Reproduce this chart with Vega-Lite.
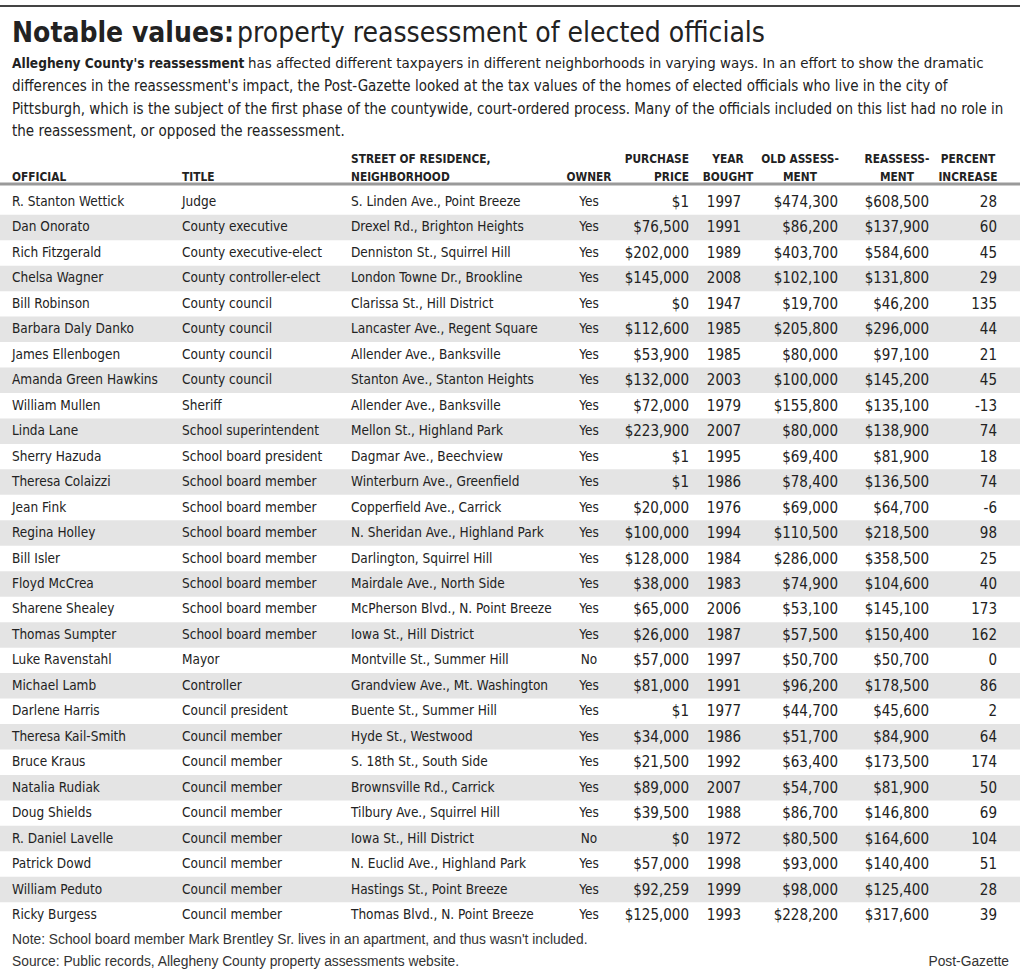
{
  "$schema": "https://vega.github.io/schema/vega-lite/v6.json",
  "width": 1020,
  "height": 973,
  "autosize": "none",
  "padding": 0,
  "background": "white",
  "config": {"view": {"stroke": null}, "axis": {"disable": true}},
  "datasets": {
    "rows": [
      {"n": 1, "official": "R. Stanton Wettick", "title": "Judge", "street": "S. Linden Ave., Point Breeze", "owner": "Yes", "price": 1, "year": "1997", "old": 474300, "reassess": 608500, "pct": "28"},
      {"n": 2, "official": "Dan Onorato", "title": "County executive", "street": "Drexel Rd., Brighton Heights", "owner": "Yes", "price": 76500, "year": "1991", "old": 86200, "reassess": 137900, "pct": "60"},
      {"n": 3, "official": "Rich Fitzgerald", "title": "County executive-elect", "street": "Denniston St., Squirrel Hill", "owner": "Yes", "price": 202000, "year": "1989", "old": 403700, "reassess": 584600, "pct": "45"},
      {"n": 4, "official": "Chelsa Wagner", "title": "County controller-elect", "street": "London Towne Dr., Brookline", "owner": "Yes", "price": 145000, "year": "2008", "old": 102100, "reassess": 131800, "pct": "29"},
      {"n": 5, "official": "Bill Robinson", "title": "County council", "street": "Clarissa St., Hill District", "owner": "Yes", "price": 0, "year": "1947", "old": 19700, "reassess": 46200, "pct": "135"},
      {"n": 6, "official": "Barbara Daly Danko", "title": "County council", "street": "Lancaster Ave., Regent Square", "owner": "Yes", "price": 112600, "year": "1985", "old": 205800, "reassess": 296000, "pct": "44"},
      {"n": 7, "official": "James Ellenbogen", "title": "County council", "street": "Allender Ave., Banksville", "owner": "Yes", "price": 53900, "year": "1985", "old": 80000, "reassess": 97100, "pct": "21"},
      {"n": 8, "official": "Amanda Green Hawkins", "title": "County council", "street": "Stanton Ave., Stanton Heights", "owner": "Yes", "price": 132000, "year": "2003", "old": 100000, "reassess": 145200, "pct": "45"},
      {"n": 9, "official": "William Mullen", "title": "Sheriff", "street": "Allender Ave., Banksville", "owner": "Yes", "price": 72000, "year": "1979", "old": 155800, "reassess": 135100, "pct": "-13"},
      {"n": 10, "official": "Linda Lane", "title": "School superintendent", "street": "Mellon St., Highland Park", "owner": "Yes", "price": 223900, "year": "2007", "old": 80000, "reassess": 138900, "pct": "74"},
      {"n": 11, "official": "Sherry Hazuda", "title": "School board president", "street": "Dagmar Ave., Beechview", "owner": "Yes", "price": 1, "year": "1995", "old": 69400, "reassess": 81900, "pct": "18"},
      {"n": 12, "official": "Theresa Colaizzi", "title": "School board member", "street": "Winterburn Ave., Greenfield", "owner": "Yes", "price": 1, "year": "1986", "old": 78400, "reassess": 136500, "pct": "74"},
      {"n": 13, "official": "Jean Fink", "title": "School board member", "street": "Copperfield Ave., Carrick", "owner": "Yes", "price": 20000, "year": "1976", "old": 69000, "reassess": 64700, "pct": "-6"},
      {"n": 14, "official": "Regina Holley", "title": "School board member", "street": "N. Sheridan Ave., Highland Park", "owner": "Yes", "price": 100000, "year": "1994", "old": 110500, "reassess": 218500, "pct": "98"},
      {"n": 15, "official": "Bill Isler", "title": "School board member", "street": "Darlington, Squirrel Hill", "owner": "Yes", "price": 128000, "year": "1984", "old": 286000, "reassess": 358500, "pct": "25"},
      {"n": 16, "official": "Floyd McCrea", "title": "School board member", "street": "Mairdale Ave., North Side", "owner": "Yes", "price": 38000, "year": "1983", "old": 74900, "reassess": 104600, "pct": "40"},
      {"n": 17, "official": "Sharene Shealey", "title": "School board member", "street": "McPherson Blvd., N. Point Breeze", "owner": "Yes", "price": 65000, "year": "2006", "old": 53100, "reassess": 145100, "pct": "173"},
      {"n": 18, "official": "Thomas Sumpter", "title": "School board member", "street": "Iowa St., Hill District", "owner": "Yes", "price": 26000, "year": "1987", "old": 57500, "reassess": 150400, "pct": "162"},
      {"n": 19, "official": "Luke Ravenstahl", "title": "Mayor", "street": "Montville St., Summer Hill", "owner": "No", "price": 57000, "year": "1997", "old": 50700, "reassess": 50700, "pct": "0"},
      {"n": 20, "official": "Michael Lamb", "title": "Controller", "street": "Grandview Ave., Mt. Washington", "owner": "Yes", "price": 81000, "year": "1991", "old": 96200, "reassess": 178500, "pct": "86"},
      {"n": 21, "official": "Darlene Harris", "title": "Council president", "street": "Buente St., Summer Hill", "owner": "Yes", "price": 1, "year": "1977", "old": 44700, "reassess": 45600, "pct": "2"},
      {"n": 22, "official": "Theresa Kail-Smith", "title": "Council member", "street": "Hyde St., Westwood", "owner": "Yes", "price": 34000, "year": "1986", "old": 51700, "reassess": 84900, "pct": "64"},
      {"n": 23, "official": "Bruce Kraus", "title": "Council member", "street": "S. 18th St., South Side", "owner": "Yes", "price": 21500, "year": "1992", "old": 63400, "reassess": 173500, "pct": "174"},
      {"n": 24, "official": "Natalia Rudiak", "title": "Council member", "street": "Brownsville Rd., Carrick", "owner": "Yes", "price": 89000, "year": "2007", "old": 54700, "reassess": 81900, "pct": "50"},
      {"n": 25, "official": "Doug Shields", "title": "Council member", "street": "Tilbury Ave., Squirrel Hill", "owner": "Yes", "price": 39500, "year": "1988", "old": 86700, "reassess": 146800, "pct": "69"},
      {"n": 26, "official": "R. Daniel Lavelle", "title": "Council member", "street": "Iowa St., Hill District", "owner": "No", "price": 0, "year": "1972", "old": 80500, "reassess": 164600, "pct": "104"},
      {"n": 27, "official": "Patrick Dowd", "title": "Council member", "street": "N. Euclid Ave., Highland Park", "owner": "Yes", "price": 57000, "year": "1998", "old": 93000, "reassess": 140400, "pct": "51"},
      {"n": 28, "official": "William Peduto", "title": "Council member", "street": "Hastings St., Point Breeze", "owner": "Yes", "price": 92259, "year": "1999", "old": 98000, "reassess": 125400, "pct": "28"},
      {"n": 29, "official": "Ricky Burgess", "title": "Council member", "street": "Thomas Blvd., N. Point Breeze", "owner": "Yes", "price": 125000, "year": "1993", "old": 228200, "reassess": 317600, "pct": "39"}
    ]
  },
  "layer": [
    {
      "data": {"values": [{"k": "top"}]},
      "mark": {"type": "rule", "color": "#444444", "strokeWidth": 2},
      "encoding": {
        "x": {"datum": -1, "type": "quantitative", "axis": null, "scale": {"domain": [-1, 0, 1, 2, 3, 4, 5, 6, 7, 8, 9, 10, 11, 12, 13, 14], "range": [0, 12, 182, 351, 589, 689, 724, 728, 800, 838, 897, 929, 968, 997, 1009, 1020], "zero": false, "nice": false}},
        "x2": {"datum": 14},
        "y": {"datum": -9, "type": "quantitative", "axis": null, "scale": {"domain": [-9, -8, -7, -6, -3, -2, -1, 1, 29, 30, 31], "range": [6, 42, 68, 91, 163, 181, 184, 202, 915, 943.5, 965.5], "zero": false, "nice": false}}
      }
    },
    {
      "data": {"name": "rows"},
      "transform": [{"filter": "datum.n % 2 == 0"}],
      "mark": {"type": "rule", "color": "#e4e4e4", "strokeWidth": 25.5},
      "encoding": {"x": {"datum": -1, "type": "quantitative"}, "x2": {"datum": 14}, "y": {"field": "n", "type": "quantitative"}}
    },
    {
      "data": {"values": [{"k": "hdr"}]},
      "mark": {"type": "rule", "color": "#9a9a9a", "strokeWidth": 3},
      "encoding": {"x": {"datum": -1, "type": "quantitative"}, "x2": {"datum": 14}, "y": {"datum": -1, "type": "quantitative"}}
    },
    {
      "data": {"values": [{"t": "Notable values:"}]},
      "mark": {"type": "text", "align": "left", "baseline": "alphabetic", "font": "DejaVu Sans Condensed, Roboto", "fontWeight": "bold", "fontSize": 28, "color": "#222222"},
      "encoding": {"x": {"datum": 0, "type": "quantitative"}, "y": {"datum": -8, "type": "quantitative"}, "text": {"field": "t"}}
    },
    {
      "data": {"values": [{"t": "property reassessment of elected officials"}]},
      "mark": {"type": "text", "align": "left", "baseline": "alphabetic", "font": "DejaVu Sans Condensed, Roboto", "fontSize": 28, "dx": 225, "color": "#222222"},
      "encoding": {"x": {"datum": 0, "type": "quantitative"}, "y": {"datum": -8, "type": "quantitative"}, "text": {"field": "t"}}
    },
    {
      "data": {"values": [{"t": "Allegheny County's reassessment"}]},
      "mark": {"type": "text", "align": "left", "baseline": "alphabetic", "font": "DejaVu Sans Condensed, Roboto", "fontWeight": "bold", "fontSize": 13.6, "color": "#222222"},
      "encoding": {"x": {"datum": 0, "type": "quantitative"}, "y": {"datum": -7, "type": "quantitative"}, "text": {"field": "t"}}
    },
    {
      "data": {"values": [{"t": "has affected different taxpayers in different neighborhoods in varying ways. In an effort to show the dramatic"}]},
      "mark": {"type": "text", "align": "left", "baseline": "alphabetic", "font": "DejaVu Sans Condensed, Roboto", "fontSize": 14.9, "dx": 236, "color": "#222222"},
      "encoding": {"x": {"datum": 0, "type": "quantitative"}, "y": {"datum": -7, "type": "quantitative"}, "text": {"field": "t"}}
    },
    {
      "data": {"values": [{"t": "differences in the reassessment's impact, the Post-Gazette looked at the tax values of the homes of elected officials who live in the city of\nPittsburgh, which is the subject of the first phase of the countywide, court-ordered process. Many of the officials included on this list had no role in\nthe reassessment, or opposed the reassessment."}]},
      "mark": {"type": "text", "align": "left", "baseline": "alphabetic", "font": "DejaVu Sans Condensed, Roboto", "fontSize": 15, "lineBreak": "\n", "lineHeight": 22.6, "color": "#222222"},
      "encoding": {"x": {"datum": 0, "type": "quantitative"}, "y": {"datum": -6, "type": "quantitative"}, "text": {"field": "t"}}
    },
    {
      "data": {"values": [{"h": "OFFICIAL"}]},
      "mark": {"type": "text", "align": "left", "baseline": "alphabetic", "font": "DejaVu Sans Condensed, Roboto", "fontWeight": "bold", "fontSize": 11.8, "color": "#222222"},
      "encoding": {"x": {"datum": 0, "type": "quantitative"}, "y": {"datum": -2, "type": "quantitative"}, "text": {"field": "h"}}
    },
    {
      "data": {"values": [{"h": "TITLE"}]},
      "mark": {"type": "text", "align": "left", "baseline": "alphabetic", "font": "DejaVu Sans Condensed, Roboto", "fontWeight": "bold", "fontSize": 11.8, "color": "#222222"},
      "encoding": {"x": {"datum": 1, "type": "quantitative"}, "y": {"datum": -2, "type": "quantitative"}, "text": {"field": "h"}}
    },
    {
      "data": {"values": [{"h": "STREET OF RESIDENCE,\nNEIGHBORHOOD"}]},
      "mark": {"type": "text", "align": "left", "baseline": "alphabetic", "font": "DejaVu Sans Condensed, Roboto", "fontWeight": "bold", "fontSize": 11.8, "lineBreak": "\n", "lineHeight": 18, "color": "#222222"},
      "encoding": {"x": {"datum": 2, "type": "quantitative"}, "y": {"datum": -3, "type": "quantitative"}, "text": {"field": "h"}}
    },
    {
      "data": {"values": [{"h": "OWNER"}]},
      "mark": {"type": "text", "align": "center", "baseline": "alphabetic", "font": "DejaVu Sans Condensed, Roboto", "fontWeight": "bold", "fontSize": 11.8, "color": "#222222"},
      "encoding": {"x": {"datum": 3, "type": "quantitative"}, "y": {"datum": -2, "type": "quantitative"}, "text": {"field": "h"}}
    },
    {
      "data": {"values": [{"h": "PURCHASE\nPRICE"}]},
      "mark": {"type": "text", "align": "right", "baseline": "alphabetic", "font": "DejaVu Sans Condensed, Roboto", "fontWeight": "bold", "fontSize": 11.8, "lineBreak": "\n", "lineHeight": 18, "color": "#222222"},
      "encoding": {"x": {"datum": 4, "type": "quantitative"}, "y": {"datum": -3, "type": "quantitative"}, "text": {"field": "h"}}
    },
    {
      "data": {"values": [{"h": "YEAR\nBOUGHT"}]},
      "mark": {"type": "text", "align": "center", "baseline": "alphabetic", "font": "DejaVu Sans Condensed, Roboto", "fontWeight": "bold", "fontSize": 11.8, "lineBreak": "\n", "lineHeight": 18, "color": "#222222"},
      "encoding": {"x": {"datum": 6, "type": "quantitative"}, "y": {"datum": -3, "type": "quantitative"}, "text": {"field": "h"}}
    },
    {
      "data": {"values": [{"h": "OLD ASSESS-\nMENT"}]},
      "mark": {"type": "text", "align": "center", "baseline": "alphabetic", "font": "DejaVu Sans Condensed, Roboto", "fontWeight": "bold", "fontSize": 11.8, "lineBreak": "\n", "lineHeight": 18, "color": "#222222"},
      "encoding": {"x": {"datum": 7, "type": "quantitative"}, "y": {"datum": -3, "type": "quantitative"}, "text": {"field": "h"}}
    },
    {
      "data": {"values": [{"h": "REASSESS-\nMENT"}]},
      "mark": {"type": "text", "align": "center", "baseline": "alphabetic", "font": "DejaVu Sans Condensed, Roboto", "fontWeight": "bold", "fontSize": 11.8, "lineBreak": "\n", "lineHeight": 18, "color": "#222222"},
      "encoding": {"x": {"datum": 9, "type": "quantitative"}, "y": {"datum": -3, "type": "quantitative"}, "text": {"field": "h"}}
    },
    {
      "data": {"values": [{"h": "PERCENT\nINCREASE"}]},
      "mark": {"type": "text", "align": "center", "baseline": "alphabetic", "font": "DejaVu Sans Condensed, Roboto", "fontWeight": "bold", "fontSize": 11.8, "lineBreak": "\n", "lineHeight": 18, "color": "#222222"},
      "encoding": {"x": {"datum": 11, "type": "quantitative"}, "y": {"datum": -3, "type": "quantitative"}, "text": {"field": "h"}}
    },
    {
      "data": {"name": "rows"},
      "mark": {"type": "text", "align": "left", "baseline": "middle", "font": "DejaVu Sans Condensed, Roboto", "fontSize": 13.5, "color": "#222222"},
      "encoding": {"x": {"datum": 0, "type": "quantitative"}, "y": {"field": "n", "type": "quantitative"}, "text": {"field": "official", "type": "nominal"}}
    },
    {
      "data": {"name": "rows"},
      "mark": {"type": "text", "align": "left", "baseline": "middle", "font": "DejaVu Sans Condensed, Roboto", "fontSize": 13.5, "color": "#222222"},
      "encoding": {"x": {"datum": 1, "type": "quantitative"}, "y": {"field": "n", "type": "quantitative"}, "text": {"field": "title", "type": "nominal"}}
    },
    {
      "data": {"name": "rows"},
      "mark": {"type": "text", "align": "left", "baseline": "middle", "font": "DejaVu Sans Condensed, Roboto", "fontSize": 13.5, "color": "#222222"},
      "encoding": {"x": {"datum": 2, "type": "quantitative"}, "y": {"field": "n", "type": "quantitative"}, "text": {"field": "street", "type": "nominal"}}
    },
    {
      "data": {"name": "rows"},
      "mark": {"type": "text", "align": "center", "baseline": "middle", "font": "DejaVu Sans Condensed, Roboto", "fontSize": 13.5, "color": "#222222"},
      "encoding": {"x": {"datum": 3, "type": "quantitative"}, "y": {"field": "n", "type": "quantitative"}, "text": {"field": "owner", "type": "nominal"}}
    },
    {
      "data": {"name": "rows"},
      "mark": {"type": "text", "align": "right", "baseline": "middle", "font": "DejaVu Sans Condensed, Roboto", "fontSize": 15, "color": "#222222"},
      "encoding": {"x": {"datum": 4, "type": "quantitative"}, "y": {"field": "n", "type": "quantitative"}, "text": {"field": "price", "type": "quantitative", "format": "$,"}}
    },
    {
      "data": {"name": "rows"},
      "mark": {"type": "text", "align": "center", "baseline": "middle", "font": "DejaVu Sans Condensed, Roboto", "fontSize": 15, "color": "#222222"},
      "encoding": {"x": {"datum": 5, "type": "quantitative"}, "y": {"field": "n", "type": "quantitative"}, "text": {"field": "year", "type": "nominal"}}
    },
    {
      "data": {"name": "rows"},
      "mark": {"type": "text", "align": "right", "baseline": "middle", "font": "DejaVu Sans Condensed, Roboto", "fontSize": 15, "color": "#222222"},
      "encoding": {"x": {"datum": 8, "type": "quantitative"}, "y": {"field": "n", "type": "quantitative"}, "text": {"field": "old", "type": "quantitative", "format": "$,"}}
    },
    {
      "data": {"name": "rows"},
      "mark": {"type": "text", "align": "right", "baseline": "middle", "font": "DejaVu Sans Condensed, Roboto", "fontSize": 15, "color": "#222222"},
      "encoding": {"x": {"datum": 10, "type": "quantitative"}, "y": {"field": "n", "type": "quantitative"}, "text": {"field": "reassess", "type": "quantitative", "format": "$,"}}
    },
    {
      "data": {"name": "rows"},
      "mark": {"type": "text", "align": "right", "baseline": "middle", "font": "DejaVu Sans Condensed, Roboto", "fontSize": 15, "color": "#222222"},
      "encoding": {"x": {"datum": 12, "type": "quantitative"}, "y": {"field": "n", "type": "quantitative"}, "text": {"field": "pct", "type": "nominal"}}
    },
    {
      "data": {"values": [{"t": "Note: School board member Mark Brentley Sr. lives in an apartment, and thus wasn't included."}]},
      "mark": {"type": "text", "align": "left", "baseline": "alphabetic", "font": "Liberation Sans", "fontSize": 13.8, "color": "#333333"},
      "encoding": {"x": {"datum": 0, "type": "quantitative"}, "y": {"datum": 30, "type": "quantitative"}, "text": {"field": "t"}}
    },
    {
      "data": {"values": [{"t": "Source: Public records, Allegheny County property assessments website."}]},
      "mark": {"type": "text", "align": "left", "baseline": "alphabetic", "font": "Liberation Sans", "fontSize": 13.8, "color": "#333333"},
      "encoding": {"x": {"datum": 0, "type": "quantitative"}, "y": {"datum": 31, "type": "quantitative"}, "text": {"field": "t"}}
    },
    {
      "data": {"values": [{"t": "Post-Gazette"}]},
      "mark": {"type": "text", "align": "right", "baseline": "alphabetic", "font": "Liberation Sans", "fontSize": 13.8, "color": "#333333"},
      "encoding": {"x": {"datum": 13, "type": "quantitative"}, "y": {"datum": 31, "type": "quantitative"}, "text": {"field": "t"}}
    }
  ]
}
